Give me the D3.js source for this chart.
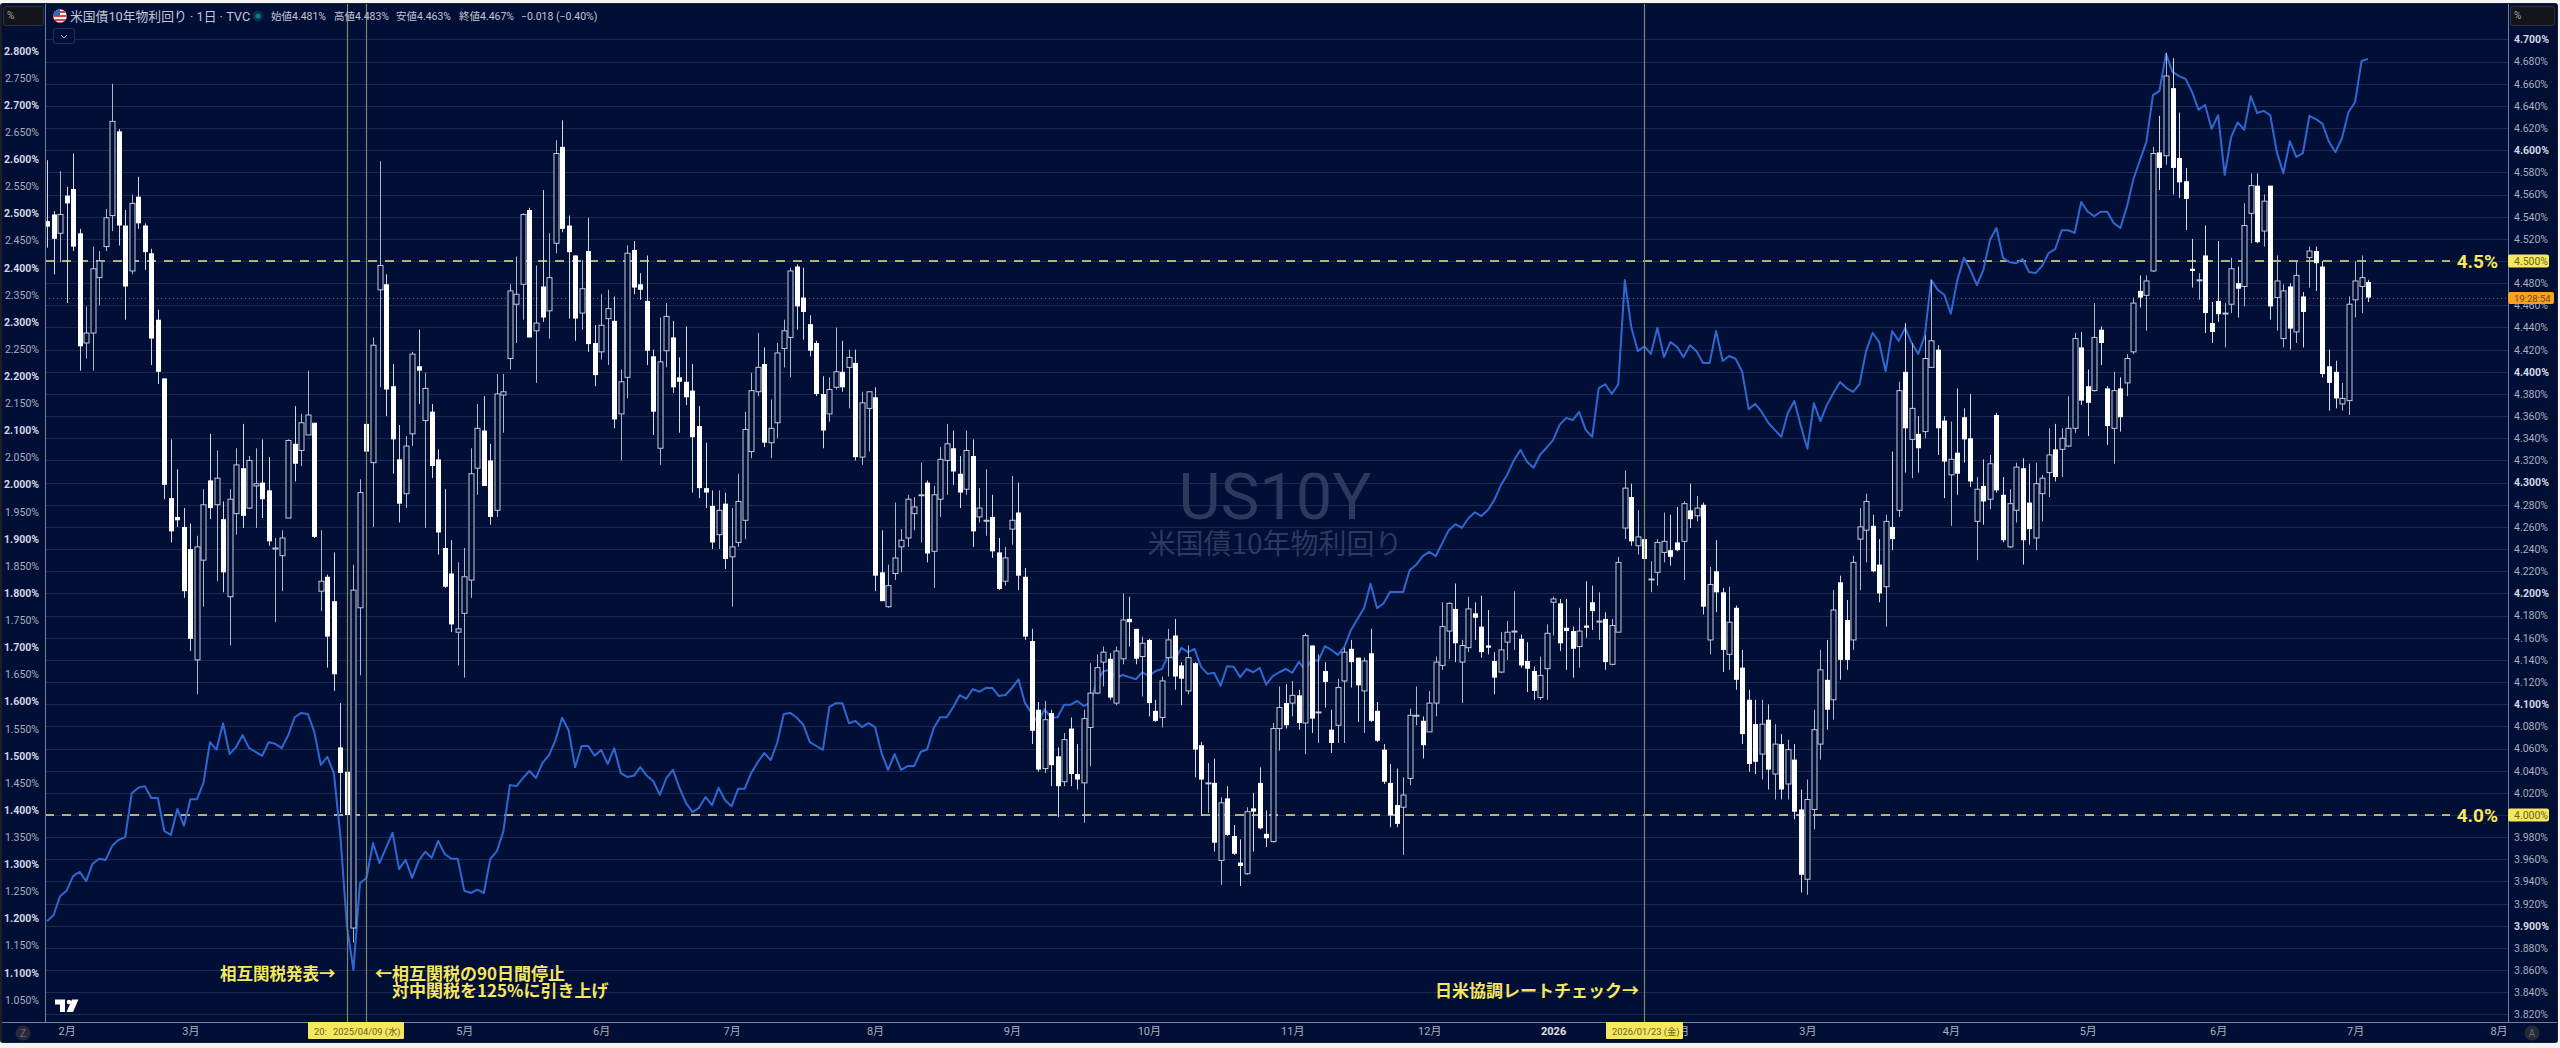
<!DOCTYPE html>
<html lang="ja">
<head>
<meta charset="utf-8">
<title>米国債10年物利回り</title>
<script src="https://cdn.jsdelivr.net/npm/d3@7"></script>
<style>
html,body{margin:0;padding:0;background:#f4f4f4;}
svg{display:block;}
text{font-family:Roboto,"Noto Sans CJK JP",sans-serif;}
</style>
</head>
<body>
<svg id="chart" width="2560" height="1048"></svg>
<script>
// US 10Y daily candles (right scale, %)
const opens = [
4.536,4.542,4.525,4.559,4.565,4.525,4.426,4.435,4.485,4.513,4.541,4.617,4.532,4.491,4.558,4.532,4.507,4.447,4.394,4.286,
4.269,4.260,4.240,4.140,4.230,4.302,4.280,4.267,4.197,4.272,4.313,4.277,4.297,4.300,4.293,4.240,4.234,4.268,4.335,4.329,
4.343,4.354,4.202,4.215,4.193,4.061,4.039,3.898,4.187,4.353,4.318,4.474,4.479,4.387,4.321,4.290,4.344,4.405,4.356,4.364,
4.321,4.241,4.218,4.165,4.182,4.212,4.313,4.347,4.320,4.275,4.379,4.412,4.461,4.479,4.546,4.437,4.477,4.455,4.516,4.603,
4.532,4.505,4.453,4.509,4.426,4.418,4.448,4.446,4.362,4.395,4.510,4.479,4.464,4.414,4.331,4.419,4.431,4.395,4.391,4.383,
4.351,4.295,4.279,4.253,4.281,4.233,4.246,4.266,4.328,4.382,4.407,4.336,4.354,4.421,4.431,4.495,4.467,4.443,4.426,4.380,
4.362,4.386,4.400,4.404,4.408,4.323,4.367,4.377,4.219,4.188,4.218,4.242,4.250,4.272,4.289,4.300,4.238,4.285,4.320,4.331,
4.308,4.294,4.324,4.269,4.266,4.269,4.237,4.211,4.258,4.273,4.215,4.157,4.095,4.042,4.092,4.053,4.030,4.078,4.037,4.029,
4.079,4.110,4.138,4.141,4.101,4.141,4.177,4.168,4.143,4.158,4.094,4.088,4.142,4.162,4.135,4.112,4.137,4.063,4.029,4.029,
3.959,4.015,3.981,3.957,3.947,4.006,4.029,3.983,3.976,4.078,4.101,4.101,4.108,4.083,4.153,4.093,4.130,4.077,4.081,4.121,
4.150,4.142,4.112,4.146,4.094,4.059,4.029,4.009,4.007,4.033,4.090,4.085,4.075,4.101,4.135,4.166,4.186,4.138,4.151,4.182,
4.170,4.153,4.139,4.129,4.156,4.166,4.159,4.139,4.130,4.106,4.132,4.192,4.191,4.169,4.166,4.152,4.171,4.192,4.175,4.177,
4.136,4.165,4.259,4.287,4.243,4.249,4.213,4.219,4.237,4.239,4.246,4.247,4.275,4.270,4.280,4.158,4.220,4.201,4.145,4.187,
4.133,4.104,4.082,4.055,4.086,4.037,4.064,4.028,4.050,4.005,3.942,4.005,4.064,4.122,4.104,4.210,4.176,4.158,4.249,4.257,
4.261,4.226,4.206,4.260,4.275,4.400,4.339,4.344,4.346,4.404,4.420,4.356,4.307,4.327,4.359,4.340,4.265,4.297,4.285,4.361,
4.289,4.242,4.275,4.313,4.282,4.250,4.290,4.309,4.330,4.330,4.333,4.349,4.422,4.387,4.383,4.438,4.385,4.349,4.385,4.390,
4.418,4.473,4.469,4.491,4.598,4.595,4.656,4.593,4.572,4.493,4.483,4.505,4.444,4.464,4.453,4.461,4.480,4.477,4.543,4.568,
4.527,4.568,4.467,4.430,4.477,4.436,4.468,4.503,4.509,4.495,4.405,4.400,4.371,4.374,4.465,4.477,4.481];
const highs = [
4.591,4.545,4.581,4.567,4.597,4.529,4.459,4.513,4.509,4.547,4.660,4.619,4.546,4.560,4.576,4.534,4.511,4.456,4.394,4.339,
4.312,4.277,4.263,4.252,4.294,4.344,4.329,4.283,4.294,4.331,4.353,4.324,4.331,4.339,4.323,4.250,4.257,4.339,4.369,4.362,
4.401,4.354,4.257,4.217,4.237,4.101,4.039,4.226,4.303,4.384,4.431,4.590,4.488,4.407,4.352,4.342,4.418,4.438,4.399,4.371,
4.330,4.294,4.248,4.228,4.241,4.331,4.371,4.378,4.335,4.398,4.398,4.479,4.504,4.543,4.548,4.496,4.564,4.525,4.609,4.627,
4.541,4.505,4.501,4.539,4.442,4.470,4.474,4.468,4.402,4.514,4.518,4.489,4.505,4.420,4.449,4.462,4.446,4.413,4.441,4.407,
4.369,4.336,4.293,4.293,4.291,4.277,4.308,4.364,4.399,4.435,4.422,4.375,4.426,4.447,4.494,4.497,4.494,4.451,4.428,4.396,
4.395,4.440,4.428,4.420,4.420,4.382,4.382,4.386,4.257,4.226,4.282,4.258,4.289,4.287,4.318,4.302,4.297,4.332,4.353,4.347,
4.324,4.347,4.339,4.295,4.312,4.289,4.250,4.242,4.306,4.300,4.223,4.168,4.102,4.103,4.095,4.061,4.074,4.088,4.064,4.095,
4.137,4.145,4.152,4.146,4.152,4.200,4.197,4.168,4.161,4.159,4.104,4.125,4.168,4.177,4.138,4.153,4.138,4.066,4.047,4.051,
4.016,4.026,3.991,3.978,4.007,4.020,4.043,4.004,4.083,4.116,4.118,4.121,4.113,4.164,4.153,4.145,4.138,4.095,4.123,4.151,
4.158,4.142,4.142,4.168,4.102,4.064,4.046,4.042,4.034,4.096,4.116,4.089,4.112,4.143,4.192,4.192,4.209,4.158,4.197,4.192,
4.198,4.185,4.147,4.165,4.175,4.202,4.163,4.156,4.134,4.143,4.172,4.197,4.195,4.195,4.170,4.187,4.211,4.207,4.201,4.183,
4.177,4.233,4.311,4.299,4.275,4.260,4.229,4.249,4.273,4.271,4.278,4.283,4.299,4.288,4.282,4.224,4.248,4.205,4.206,4.189,
4.149,4.113,4.104,4.104,4.100,4.082,4.073,4.068,4.064,4.023,4.032,4.095,4.149,4.158,4.203,4.216,4.194,4.234,4.277,4.290,
4.271,4.249,4.271,4.328,4.391,4.444,4.426,4.360,4.433,4.483,4.424,4.360,4.355,4.385,4.367,4.380,4.305,4.321,4.325,4.363,
4.305,4.294,4.318,4.322,4.317,4.318,4.307,4.349,4.353,4.349,4.378,4.435,4.436,4.402,4.462,4.441,4.387,4.400,4.395,4.416,
4.467,4.487,4.487,4.603,4.631,4.688,4.683,4.634,4.584,4.520,4.489,4.532,4.463,4.518,4.462,4.503,4.495,4.552,4.579,4.579,
4.560,4.568,4.505,4.479,4.480,4.500,4.472,4.513,4.513,4.500,4.420,4.410,4.390,4.468,4.500,4.505,4.483];
const lows = [
4.512,4.488,4.499,4.462,4.509,4.401,4.412,4.401,4.460,4.509,4.527,4.514,4.447,4.488,4.529,4.492,4.406,4.389,4.285,4.246,
4.260,4.196,4.148,4.109,4.188,4.267,4.211,4.201,4.153,4.253,4.259,4.276,4.259,4.268,4.243,4.174,4.202,4.268,4.301,4.315,
4.343,4.250,4.184,4.133,4.112,4.002,3.991,3.885,4.126,4.312,4.260,4.386,4.360,4.308,4.264,4.277,4.333,4.371,4.259,4.304,
4.235,4.205,4.165,4.135,4.124,4.196,4.289,4.297,4.262,4.269,4.345,4.402,4.426,4.447,4.431,4.390,4.445,4.430,4.507,4.526,
4.448,4.428,4.438,4.418,4.387,4.411,4.406,4.349,4.320,4.376,4.470,4.465,4.406,4.343,4.316,4.404,4.381,4.345,4.370,4.291,
4.286,4.277,4.240,4.240,4.222,4.188,4.242,4.249,4.322,4.378,4.332,4.322,4.340,4.404,4.395,4.438,4.429,4.414,4.378,4.331,
4.355,4.384,4.382,4.367,4.320,4.316,4.328,4.202,4.193,4.187,4.212,4.219,4.242,4.257,4.246,4.228,4.205,4.269,4.289,4.298,
4.277,4.289,4.242,4.264,4.252,4.232,4.203,4.207,4.244,4.203,4.158,4.064,4.039,4.038,4.026,3.998,4.026,4.026,4.023,3.993,
4.044,4.109,4.116,4.104,4.099,4.136,4.152,4.136,4.107,4.089,4.084,4.079,4.125,4.113,4.099,4.109,4.034,3.999,4.002,3.967,
3.937,3.981,3.964,3.936,3.946,3.967,3.987,3.971,3.975,4.058,4.078,4.089,4.077,4.055,4.074,4.065,4.097,4.056,4.065,4.065,
4.115,4.084,4.074,4.084,4.066,4.028,3.989,3.989,3.964,4.027,4.081,4.051,4.075,4.089,4.131,4.141,4.138,4.101,4.147,4.158,
4.142,4.145,4.109,4.128,4.140,4.149,4.133,4.111,4.104,4.104,4.104,4.162,4.148,4.131,4.124,4.133,4.160,4.167,4.158,4.131,
4.135,4.165,4.249,4.243,4.235,4.229,4.201,4.207,4.228,4.225,4.238,4.212,4.259,4.265,4.181,4.145,4.183,4.129,4.131,4.113,
4.064,4.039,4.037,4.032,4.023,4.014,4.014,4.014,3.996,3.930,3.928,3.987,4.050,4.077,4.086,4.122,4.131,4.149,4.203,4.228,
4.219,4.192,4.170,4.239,4.269,4.309,4.304,4.309,4.340,4.404,4.325,4.286,4.261,4.289,4.318,4.296,4.230,4.262,4.276,4.291,
4.246,4.241,4.264,4.226,4.244,4.239,4.265,4.287,4.301,4.305,4.332,4.345,4.370,4.342,4.382,4.406,4.334,4.317,4.346,4.378,
4.416,4.458,4.437,4.490,4.564,4.587,4.560,4.557,4.528,4.476,4.465,4.435,4.426,4.445,4.422,4.453,4.449,4.459,4.516,4.516,
4.513,4.447,4.437,4.422,4.420,4.426,4.422,4.476,4.473,4.395,4.365,4.367,4.365,4.361,4.449,4.453,4.463];
const closes = [
4.531,4.520,4.542,4.552,4.513,4.423,4.435,4.493,4.500,4.539,4.626,4.532,4.477,4.552,4.534,4.508,4.430,4.400,4.298,4.256,
4.266,4.202,4.159,4.242,4.280,4.277,4.304,4.219,4.285,4.316,4.270,4.320,4.299,4.285,4.247,4.241,4.250,4.338,4.317,4.354,
4.361,4.251,4.211,4.161,4.127,4.038,4.000,4.203,4.291,4.328,4.424,4.496,4.384,4.339,4.281,4.333,4.416,4.401,4.385,4.315,
4.255,4.206,4.172,4.168,4.215,4.308,4.349,4.297,4.269,4.380,4.382,4.473,4.470,4.542,4.431,4.444,4.449,4.485,4.597,4.529,
4.508,4.448,4.475,4.425,4.397,4.442,4.457,4.357,4.391,4.507,4.476,4.474,4.419,4.364,4.409,4.450,4.386,4.391,4.377,4.341,
4.295,4.291,4.246,4.275,4.231,4.242,4.283,4.348,4.383,4.404,4.336,4.349,4.417,4.437,4.491,4.459,4.454,4.419,4.380,4.347,
4.384,4.400,4.386,4.413,4.323,4.372,4.382,4.216,4.193,4.207,4.232,4.248,4.285,4.278,4.289,4.236,4.289,4.321,4.335,4.310,
4.291,4.329,4.256,4.277,4.266,4.238,4.204,4.232,4.266,4.216,4.161,4.076,4.041,4.086,4.045,4.026,4.068,4.037,4.032,4.087,
4.110,4.133,4.147,4.106,4.148,4.176,4.174,4.141,4.155,4.101,4.085,4.121,4.158,4.125,4.123,4.142,4.059,4.032,4.029,3.975,
4.011,3.982,3.965,3.954,4.003,4.003,3.988,3.979,4.078,4.097,4.081,4.108,4.083,4.162,4.087,4.093,4.120,4.065,4.115,4.147,
4.138,4.117,4.139,4.085,4.067,4.030,4.000,3.992,4.018,4.090,4.090,4.063,4.101,4.138,4.170,4.191,4.155,4.153,4.186,4.178,
4.147,4.151,4.124,4.149,4.165,4.166,4.135,4.132,4.112,4.126,4.164,4.195,4.155,4.166,4.150,4.166,4.169,4.184,4.175,4.138,
4.171,4.228,4.295,4.247,4.251,4.231,4.213,4.246,4.247,4.233,4.239,4.281,4.267,4.277,4.188,4.208,4.201,4.149,4.174,4.122,
4.073,4.046,4.048,4.082,4.041,4.064,4.023,4.059,4.003,3.946,4.014,4.077,4.131,4.095,4.185,4.140,4.140,4.228,4.260,4.283,
4.220,4.200,4.265,4.249,4.383,4.349,4.367,4.331,4.412,4.428,4.349,4.319,4.321,4.308,4.339,4.301,4.294,4.283,4.317,4.293,
4.248,4.281,4.314,4.248,4.258,4.299,4.304,4.325,4.305,4.340,4.349,4.430,4.374,4.372,4.431,4.426,4.351,4.383,4.359,4.412,
4.462,4.467,4.482,4.597,4.584,4.667,4.584,4.571,4.556,4.491,4.483,4.453,4.436,4.452,4.453,4.493,4.475,4.532,4.568,4.517,
4.554,4.459,4.482,4.473,4.439,4.487,4.454,4.509,4.498,4.398,4.390,4.376,4.376,4.461,4.482,4.485,4.467];

// Japan 10Y yield line (left scale, %)
const jgbYield = [
1.195,1.206,1.241,1.251,1.278,1.286,1.269,1.301,1.310,1.308,1.334,1.345,1.350,1.431,1.441,1.444,1.422,1.422,1.361,1.354,
1.402,1.371,1.420,1.420,1.450,1.525,1.511,1.560,1.503,1.516,1.538,1.514,1.507,1.500,1.525,1.522,1.514,1.538,1.571,1.579,
1.577,1.544,1.483,1.498,1.468,1.352,1.186,1.105,1.265,1.275,1.339,1.302,1.330,1.358,1.291,1.308,1.275,1.306,1.323,1.312,
1.343,1.319,1.310,1.310,1.251,1.247,1.253,1.247,1.310,1.324,1.361,1.446,1.444,1.459,1.472,1.459,1.487,1.501,1.529,1.570,
1.547,1.479,1.518,1.518,1.500,1.511,1.485,1.514,1.468,1.461,1.463,1.479,1.463,1.453,1.428,1.459,1.474,1.441,1.413,1.396,
1.404,1.424,1.409,1.441,1.418,1.407,1.439,1.439,1.468,1.488,1.505,1.492,1.524,1.577,1.579,1.570,1.557,1.525,1.518,1.511,
1.590,1.597,1.597,1.560,1.564,1.553,1.560,1.553,1.505,1.474,1.503,1.474,1.481,1.481,1.507,1.512,1.551,1.571,1.571,1.590,
1.612,1.605,1.623,1.618,1.625,1.625,1.610,1.612,1.625,1.641,1.597,1.579,1.560,1.586,1.570,1.571,1.594,1.594,1.601,1.592,
1.597,1.636,1.656,1.658,1.643,1.649,1.645,1.641,1.654,1.647,1.656,1.660,1.686,1.677,1.699,1.691,1.697,1.664,1.651,1.653,
1.629,1.665,1.664,1.645,1.660,1.654,1.662,1.631,1.647,1.654,1.660,1.653,1.673,1.658,1.677,1.675,1.702,1.695,1.686,1.701,
1.732,1.752,1.772,1.817,1.772,1.781,1.802,1.802,1.802,1.842,1.852,1.868,1.876,1.868,1.892,1.916,1.927,1.920,1.938,1.949,
1.942,1.953,1.972,1.999,2.019,2.045,2.064,2.042,2.031,2.055,2.068,2.082,2.110,2.123,2.119,2.134,2.101,2.088,2.178,2.185,
2.167,2.185,2.377,2.289,2.246,2.255,2.241,2.289,2.235,2.263,2.254,2.235,2.257,2.246,2.224,2.224,2.283,2.228,2.237,2.232,
2.208,2.139,2.149,2.134,2.114,2.101,2.088,2.132,2.154,2.108,2.066,2.150,2.117,2.147,2.169,2.189,2.178,2.171,2.185,2.246,
2.280,2.263,2.209,2.283,2.265,2.289,2.261,2.241,2.274,2.377,2.359,2.350,2.315,2.377,2.418,2.396,2.368,2.396,2.451,2.473,
2.418,2.410,2.408,2.416,2.392,2.390,2.403,2.427,2.434,2.469,2.469,2.464,2.521,2.503,2.495,2.503,2.503,2.482,2.473,2.512,
2.563,2.598,2.632,2.718,2.726,2.794,2.761,2.753,2.748,2.724,2.691,2.700,2.656,2.681,2.571,2.641,2.668,2.654,2.716,2.685,
2.689,2.681,2.613,2.574,2.633,2.604,2.611,2.680,2.674,2.665,2.632,2.613,2.639,2.687,2.705,2.781,2.785];

// Axis ticks
const leftTicks = [2.8,2.75,2.7,2.65,2.6,2.55,2.5,2.45,2.4,2.35,2.3,2.25,2.2,2.15,2.1,2.05,2.0,1.95,1.9,1.85,1.8,1.75,1.7,1.65,1.6,1.55,1.5,1.45,1.4,1.35,1.3,1.25,1.2,1.15,1.1,1.05];
const rightTicks = [4.7,4.68,4.66,4.64,4.62,4.6,4.58,4.56,4.54,4.52,4.5,4.48,4.46,4.44,4.42,4.4,4.38,4.36,4.34,4.32,4.3,4.28,4.26,4.24,4.22,4.2,4.18,4.16,4.14,4.12,4.1,4.08,4.06,4.04,4.02,4.0,3.98,3.96,3.94,3.92,3.9,3.88,3.86,3.84,3.82];
const monthBars = [3,22,64,85,105,127,148,169,191,212,231,250.5,270,292,313,333,354,376];
const monthLabels = ["2月","3月","5月","6月","7月","8月","9月","10月","11月","12月","2026","2月","3月","4月","5月","6月","7月","8月"];

// Event markers and reference levels
const eventBars = [46,49,245];
const refLevels = [4.5,4.0];
const refLabels = ["4.5%","4.0%"];
const lastClose = 4.467;

const W = 2560, H = 1048;
const plot = {left:45, right:2508, top:4, bottom:1022};
const NAVY = "#010e36";
const YELLOW = "#f7e75c";

const svg = d3.select("#chart");
const x = d3.scaleLinear().domain([0,356]).range([47,2368.1]);
const yR = d3.scaleLinear().domain([4.5,4.0]).range([261,815]);
const yL = d3.scaleLinear().domain([2.8,1.4]).range([50.7,810]);

// Frame and panels
svg.append("rect").attr("x",0).attr("y",3).attr("width",2558).attr("height",1040).attr("rx",3).attr("fill","#1d1f26");
svg.append("rect").attr("x",2).attr("y",4).attr("width",2555).attr("height",1038).attr("fill",NAVY);

// Horizontal grid, one line per right-hand tick
svg.append("g").selectAll("line").data(rightTicks).join("line")
  .attr("x1",plot.left).attr("x2",plot.right)
  .attr("y1",d=>Math.round(yR(d))+0.5).attr("y2",d=>Math.round(yR(d))+0.5)
  .attr("stroke","#192950").attr("stroke-width",1);

// Watermark
svg.append("text").attr("x",1275).attr("y",519).attr("text-anchor","middle")
  .attr("font-size",65).attr("fill","#2c3a5e").text("US10Y");
svg.append("text").attr("x",1275).attr("y",554).attr("text-anchor","middle")
  .style("font-family",'"Noto Sans CJK JP"').attr("font-size",28).attr("fill","#2c3a5e").text("米国債10年物利回り");

// Current price dotted line
svg.append("line").attr("x1",plot.left).attr("x2",plot.right)
  .attr("y1",Math.round(yR(lastClose))+0.5).attr("y2",Math.round(yR(lastClose))+0.5)
  .attr("stroke","#626b85").attr("stroke-dasharray","1 3");

// Reference levels
svg.append("g").selectAll("line").data(refLevels).join("line")
  .attr("x1",plot.left).attr("x2",2450)
  .attr("y1",d=>yR(d)).attr("y2",d=>yR(d))
  .attr("stroke","#e8e48c").attr("stroke-width",1.6).attr("stroke-dasharray","9 8");

// Japan yield line
const line = d3.line().x((d,i)=>x(i)).y(d=>yL(d));
svg.append("path").datum(jgbYield).attr("d",line)
  .attr("fill","none").attr("stroke","#2f68d3").attr("stroke-width",2).attr("stroke-linejoin","round");

// Candles
const idx = d3.range(closes.length);
const candles = svg.append("g");
candles.selectAll("line").data(idx).join("line")
  .attr("x1",i=>Math.round(x(i))+0.5).attr("x2",i=>Math.round(x(i))+0.5)
  .attr("y1",i=>yR(highs[i])).attr("y2",i=>yR(lows[i]))
  .attr("stroke",i=>closes[i]<opens[i]?"#d5d9e2":"#aeb5c6").attr("stroke-width",1);
candles.selectAll("rect").data(idx).join("rect")
  .attr("x",i=>Math.round(x(i))-2)
  .attr("width",5)
  .attr("y",i=>Math.min(yR(opens[i]),yR(closes[i])))
  .attr("height",i=>Math.max(1,Math.abs(yR(opens[i])-yR(closes[i]))))
  .attr("fill",i=>closes[i]<opens[i]?"#ffffff":NAVY)
  .attr("stroke",i=>closes[i]<opens[i]?"none":"#c3cad9").attr("stroke-width",1);

// Event verticals
svg.append("g").selectAll("line").data(eventBars).join("line")
  .attr("x1",d=>Math.round(x(d))+0.5).attr("x2",d=>Math.round(x(d))+0.5)
  .attr("y1",plot.top).attr("y2",plot.bottom)
  .attr("stroke","#7f8668").attr("stroke-width",1.2);

// Axis borders
svg.append("path").attr("d",`M${plot.left}.5,${plot.top}V${plot.bottom}.5H${plot.right}.5V${plot.top}`)
  .attr("fill","none").attr("stroke","#75809c").attr("stroke-width",1);
svg.append("line").attr("x1",2).attr("x2",2557).attr("y1",plot.bottom+.5).attr("y2",plot.bottom+.5).attr("stroke","#75809c");

// Axes
function styleTicks(g, isBold){
  g.select(".domain").remove();
  g.selectAll(".tick line").remove();
  g.selectAll(".tick text")
    .attr("font-size",10.5)
    .attr("font-weight",d=>isBold(d)?700:400)
    .attr("fill",d=>isBold(d)?"#d4d8e2":"#a9afbd");
}
const isTenth = d=>Math.abs(d*10-Math.round(d*10))<1e-6;
const fmt = d=>d.toFixed(3)+"%";
svg.append("g").attr("transform","translate(44,0)")
  .call(d3.axisLeft(yL).tickValues(leftTicks).tickSize(0).tickPadding(5).tickFormat(fmt))
  .call(g=>styleTicks(g,isTenth));
svg.append("g").attr("transform","translate(2508,0)")
  .call(d3.axisRight(yR).tickValues(rightTicks).tickSize(0).tickPadding(6).tickFormat(fmt))
  .call(g=>styleTicks(g,isTenth));
svg.append("g").attr("transform",`translate(0,1022)`)
  .call(d3.axisBottom(x).tickValues(monthBars).tickSize(0).tickPadding(5).tickFormat((d,i)=>monthLabels[i]))
  .call(g=>{
    g.select(".domain").remove();
    g.selectAll(".tick text").attr("font-size",11)
      .attr("font-weight",(d,i)=>monthLabels[i]==="2026"?700:400)
      .attr("fill",(d,i)=>monthLabels[i]==="2026"?"#e0e3ea":"#aab0be");
  });

// Level captions and price tags
svg.append("g").selectAll("text").data(refLevels).join("text")
  .attr("x",2498).attr("y",d=>yR(d)+7).attr("text-anchor","end")
  .attr("font-size",19).attr("font-weight",700).attr("fill",YELLOW)
  .text((d,i)=>refLabels[i]);
const tags = svg.append("g");
refLevels.forEach(v=>{
  tags.append("rect").attr("x",2508).attr("y",yR(v)-6.5).attr("width",41).attr("height",13).attr("rx",2).attr("fill",YELLOW);
  tags.append("text").attr("x",2514).attr("y",yR(v)+3.7).attr("font-size",10.5).attr("fill","#6a6420").text(fmt(v));
});
tags.append("rect").attr("x",2508).attr("y",292).attr("width",46).attr("height",12).attr("rx",2).attr("fill","#f8a123");
tags.append("text").attr("x",2514).attr("y",301.5).attr("font-size",9.5).attr("fill","#6f4a10").text("19:28:54");

// Date tags on the bottom axis
function dateTag(x0,w,parts){
  tags.append("rect").attr("x",x0).attr("y",1022).attr("width",w).attr("height",17).attr("rx",1).attr("fill",YELLOW);
  parts.forEach(p=>tags.append("text").attr("x",p[0]).attr("y",1034.5).attr("font-size",9.3)
    .style("font-family",'Roboto,"Noto Sans CJK JP"').attr("fill","#6a6420").text(p[1]));
}
dateTag(308,96,[[314,"20:"],[333,"2025/04/09 (水)"]]);
dateTag(1606,77,[[1612,"2026/01/23 (金)"]]);

// Event notes
const noteStyle = s=>s.style("font-family",'"Noto Sans CJK JP"').attr("font-size",17).attr("font-weight",700).attr("fill",YELLOW);
noteStyle(svg.append("text").attr("x",220).attr("y",980).attr("font-size",16.5).text("相互関税発表→")).attr("font-size",16.5);
noteStyle(svg.append("text").attr("x",375).attr("y",980).text("←相互関税の90日間停止"));
noteStyle(svg.append("text").attr("x",392).attr("y",997).text("対中関税を125%に引き上げ"));
noteStyle(svg.append("text").attr("x",1435).attr("y",997).text("日米協調レートチェック→"));

// Header legend
const defs = svg.append("defs");
defs.append("clipPath").attr("id","flag").append("circle").attr("cx",60).attr("cy",16).attr("r",6.8);
const flag = svg.append("g").attr("clip-path","url(#flag)");
flag.append("rect").attr("x",53).attr("y",9).attr("width",14).attr("height",14).attr("fill","#f2f2f2");
[11,15,19,22].forEach(y=>flag.append("rect").attr("x",53).attr("y",y).attr("width",14).attr("height",2).attr("fill","#d8434c"));
flag.append("rect").attr("x",53).attr("y",9).attr("width",7).attr("height",7).attr("fill","#3c62b5");
svg.append("text").attr("x",70).attr("y",21).attr("font-size",12.8).attr("fill","#c2c7d4")
  .style("font-family",'Roboto,"Noto Sans CJK JP"').text("米国債10年物利回り · 1日 · TVC");
svg.append("circle").attr("cx",258).attr("cy",16).attr("r",5.5).attr("fill","#07304a");
svg.append("circle").attr("cx",258).attr("cy",16).attr("r",2.6).attr("fill","#0e7f72");
const legendItems = [[271,"始値4.481%"],[334,"高値4.483%"],[396,"安値4.463%"],[459,"終値4.467%"],[521,"−0.018 (−0.40%)"]];
svg.append("g").selectAll("text").data(legendItems).join("text")
  .attr("x",d=>d[0]).attr("y",20).attr("font-size",10.5).attr("fill","#c0c5d2")
  .style("font-family",'Roboto,"Noto Sans CJK JP"').text(d=>d[1]);
svg.append("rect").attr("x",53.5).attr("y",28.5).attr("width",21).attr("height",15).attr("rx",2)
  .attr("fill",NAVY).attr("stroke","#22315a");
svg.append("path").attr("d","M61,35l3,3l3,-3").attr("fill","none").attr("stroke","#aeb4c4").attr("stroke-width",1);

// Unit boxes and axis buttons
[[3,6,40],[2510,6,44]].forEach(b=>{
  svg.append("rect").attr("x",b[0]+.5).attr("y",b[1]+.5).attr("width",b[2]).attr("height",19).attr("rx",2)
    .attr("fill","#14151a").attr("stroke","#2f3240");
  svg.append("text").attr("x",b[0]+4).attr("y",b[1]+13).attr("font-size",10).attr("fill","#a0a4b0").text("%");
});
[[23,"Z"],[2532,"A"]].forEach(b=>{
  svg.append("circle").attr("cx",b[0]).attr("cy",1033).attr("r",7.5).attr("fill","#262a36");
  svg.append("text").attr("x",b[0]).attr("y",1037).attr("text-anchor","middle").attr("font-size",10).attr("fill","#666b78").text(b[1]);
});

// Logo mark in the lower-left of the pane
const logo = svg.append("g").attr("fill","#ffffff");
logo.append("path").attr("d","M55,999.5h10v12.5h-5v-7.5h-5zM72,999.5h6.5l-5.5,12.5h-6.5z");
logo.append("circle").attr("cx",69).attr("cy",1002).attr("r",2.3);
</script>
</body>
</html>
